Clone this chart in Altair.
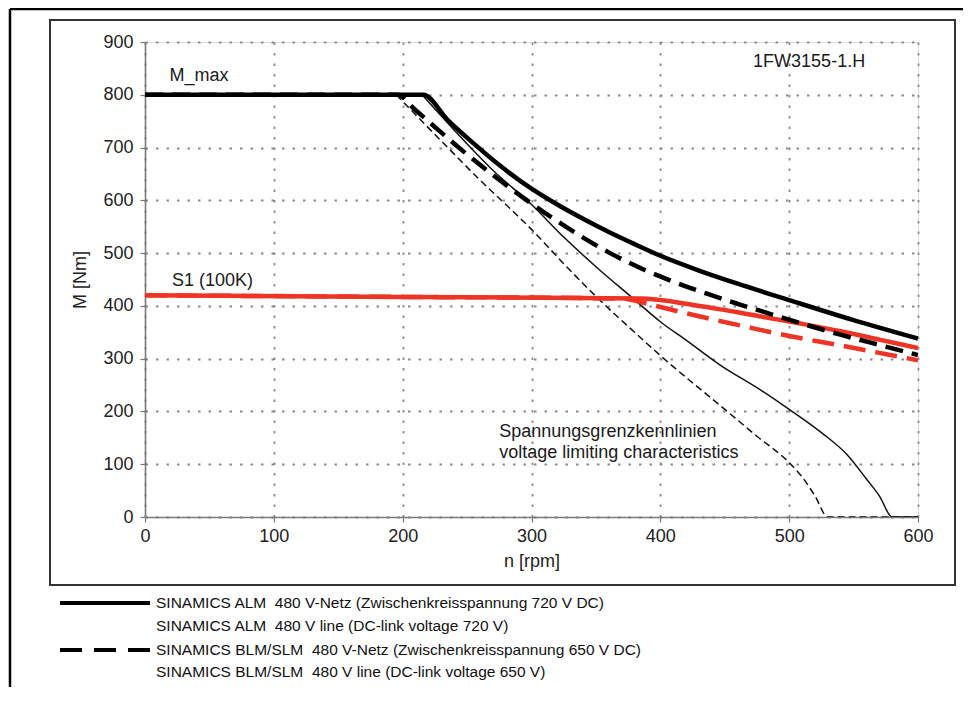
import altair as alt
import pandas as pd

# ---------------- data ----------------
# thick solid black: M_max, SINAMICS ALM (720 V DC)
n_mmax_alm = [0, 216, 235, 255, 276, 300, 320, 340, 360, 380, 400, 430, 460, 500, 550, 600]
m_mmax_alm = [800, 800, 752, 708, 665, 622, 592, 565, 540, 517, 495, 467, 442, 411, 373, 338]
# thick dashed black: M_max, SINAMICS BLM/SLM (650 V DC)
n_mmax_blm = [0, 196, 209, 225, 245, 269, 293, 316, 339, 361, 387, 410, 435, 460, 485, 509, 539, 570, 600]
m_mmax_blm = [800, 800, 773, 739, 697, 650, 606, 567, 531, 500, 469, 446, 424, 404, 385, 367, 346, 326, 307]
# thick solid red: S1 (100K), ALM
n_s1_alm = [0, 200, 385, 400, 420, 440, 460, 480, 510, 540, 570, 600]
m_s1_alm = [420, 417, 414, 411, 404, 396, 388, 379, 366, 352, 336, 320]
# thick dashed red: S1 (100K), BLM/SLM
n_s1_blm = [0, 200, 370, 385, 400, 420, 447, 473, 500, 540, 570, 600]
m_s1_blm = [420, 417, 414, 407, 398, 386, 371, 357, 343, 325, 311, 297]
# thin solid black: voltage limiting characteristic, ALM
n_vl_alm = [215, 240, 270, 300, 326, 352, 377, 400, 420, 447, 475, 500, 525, 545, 560, 570, 580, 600]
m_vl_alm = [800, 733, 657, 592, 528, 470, 418, 370, 335, 287, 245, 204, 160, 118, 72, 40, 0, 0]
# thin dashed black: voltage limiting characteristic, BLM/SLM
n_vl_blm = [195, 235, 261, 287, 300, 325, 350, 380, 400, 450, 475, 500, 510, 520, 530, 600]
m_vl_blm = [800, 700, 636, 576, 545, 480, 418, 350, 306, 204, 153, 103, 76, 40, 0, 0]

x_ticks = [0, 100, 200, 300, 400, 500, 600]
y_ticks = [0, 100, 200, 300, 400, 500, 600, 700, 800, 900]

ann_text = ["M_max", "S1 (100K)", "1FW3155-1.H", "Spannungsgrenzkennlinien", "voltage limiting characteristics"]
ann_n = [19, 21, 472, 275, 275]
ann_m = [836, 448, 862, 162, 121]

NBSP = "\u00a0"
legend_lines = [
    "SINAMICS ALM" + NBSP + " 480 V-Netz (Zwischenkreisspannung 720 V DC)",
    "SINAMICS ALM" + NBSP + " 480 V line (DC-link voltage 720 V)",
    "SINAMICS BLM/SLM" + NBSP + " 480 V-Netz (Zwischenkreisspannung 650 V DC)",
    "SINAMICS BLM/SLM" + NBSP + " 480 V line (DC-link voltage 650 V)",
]

# ---------------- styling ----------------
FONT = "Liberation Sans"
RED = "#ee3424"
W, H = 773, 475

x_scale = alt.Scale(domain=[0, 600], nice=False, zero=False)
y_scale = alt.Scale(domain=[0, 900], nice=False, zero=False)

x_axis = alt.Axis(values=x_ticks, title="n [rpm]", grid=True, gridColor="#8a8a8a",
                  gridDash=[2.5, 8], gridWidth=1.8, domainColor="#7a7a7a", domainWidth=1.6,
                  tickColor="#7a7a7a", tickSize=5, tickWidth=1.2, labelFont=FONT, labelFontSize=18,
                  labelColor="#222", labelPadding=5, labelFlush=False, titleFont=FONT,
                  titleFontSize=18, titleFontWeight="normal", titleColor="#222", titlePadding=7)
y_axis = alt.Axis(values=y_ticks, title="M [Nm]", grid=True, gridColor="#8a8a8a",
                  gridDash=[2.5, 8], gridWidth=1.8, domainColor="#7a7a7a", domainWidth=1.6,
                  tickColor="#7a7a7a", tickSize=5, tickWidth=1.2, labelFont=FONT, labelFontSize=18,
                  labelColor="#222", labelPadding=7, labelFlush=False, titleFont=FONT,
                  titleFontSize=18, titleFontWeight="normal", titleColor="#222", titlePadding=13)


def curve(n, m, color, width, dash=None):
    df = pd.DataFrame({"n": n, "M": m})
    kw = dict(color=color, strokeWidth=width, interpolate="monotone", clip=True)
    if dash:
        kw["strokeDash"] = dash
    return alt.Chart(df).mark_line(**kw).encode(
        x=alt.X("n:Q", scale=x_scale, axis=x_axis),
        y=alt.Y("M:Q", scale=y_scale, axis=y_axis),
    )


layers = [
    curve(n_vl_blm, m_vl_blm, "#111", 1.5, [7, 4]),
    curve(n_vl_alm, m_vl_alm, "#111", 1.5),
    curve(n_s1_blm, m_s1_blm, RED, 4.5, [22, 10]),
    curve(n_s1_alm, m_s1_alm, RED, 4.5),
    curve(n_mmax_blm, m_mmax_blm, "#000", 4.5, [18, 9]),
    curve(n_mmax_alm, m_mmax_alm, "#000", 4.5),
]

ann_df = pd.DataFrame({"t": ann_text, "n": ann_n, "M": ann_m})
layers.append(
    alt.Chart(ann_df).mark_text(align="left", baseline="middle", font=FONT, fontSize=18, color="#1a1a1a").encode(
        x=alt.X("n:Q", scale=x_scale), y=alt.Y("M:Q", scale=y_scale), text="t:N")
)

# ---------------- frames (decoration, pixel positions relative to plot area) ----------------
frame_df = pd.DataFrame({"k": [0]})
layers.append(alt.Chart(frame_df).mark_rect(fill=None, stroke="#333", strokeWidth=2).encode(
    x=alt.value(-95), x2=alt.value(810), y=alt.value(-22), y2=alt.value(543)))
layers.append(alt.Chart(frame_df).mark_rule(color="#000", strokeWidth=2.5).encode(
    x=alt.value(-135), x2=alt.value(818), y=alt.value(-33)))
layers.append(alt.Chart(frame_df).mark_rule(color="#000", strokeWidth=2.5).encode(
    x=alt.value(-135), y=alt.value(-33), y2=alt.value(645)))

# ---------------- custom legend below the frame ----------------
layers.append(alt.Chart(frame_df).mark_rule(color="#000", strokeWidth=4).encode(
    x=alt.value(-85), x2=alt.value(5), y=alt.value(561)))
layers.append(alt.Chart(frame_df).mark_rule(color="#000", strokeWidth=4, strokeDash=[22, 12]).encode(
    x=alt.value(-85), x2=alt.value(5), y=alt.value(608)))
for i, yy in enumerate([561, 584, 608, 630]):
    layers.append(alt.Chart(frame_df).mark_text(align="left", baseline="middle", font=FONT,
                                                fontSize=15.5, color="#111", text=legend_lines[i]).encode(
        x=alt.value(11), y=alt.value(yy)))

chart = alt.layer(*layers).properties(
    width=W, height=H,
    autosize=alt.AutoSizeParams(type="none"),
    padding={"left": 137, "top": 34, "right": 45, "bottom": 170},
).configure_view(stroke="#9a9a9a", strokeWidth=1.8).configure(background="white")

chart.save("out.html", embed_options={"renderer": "svg", "actions": False})
